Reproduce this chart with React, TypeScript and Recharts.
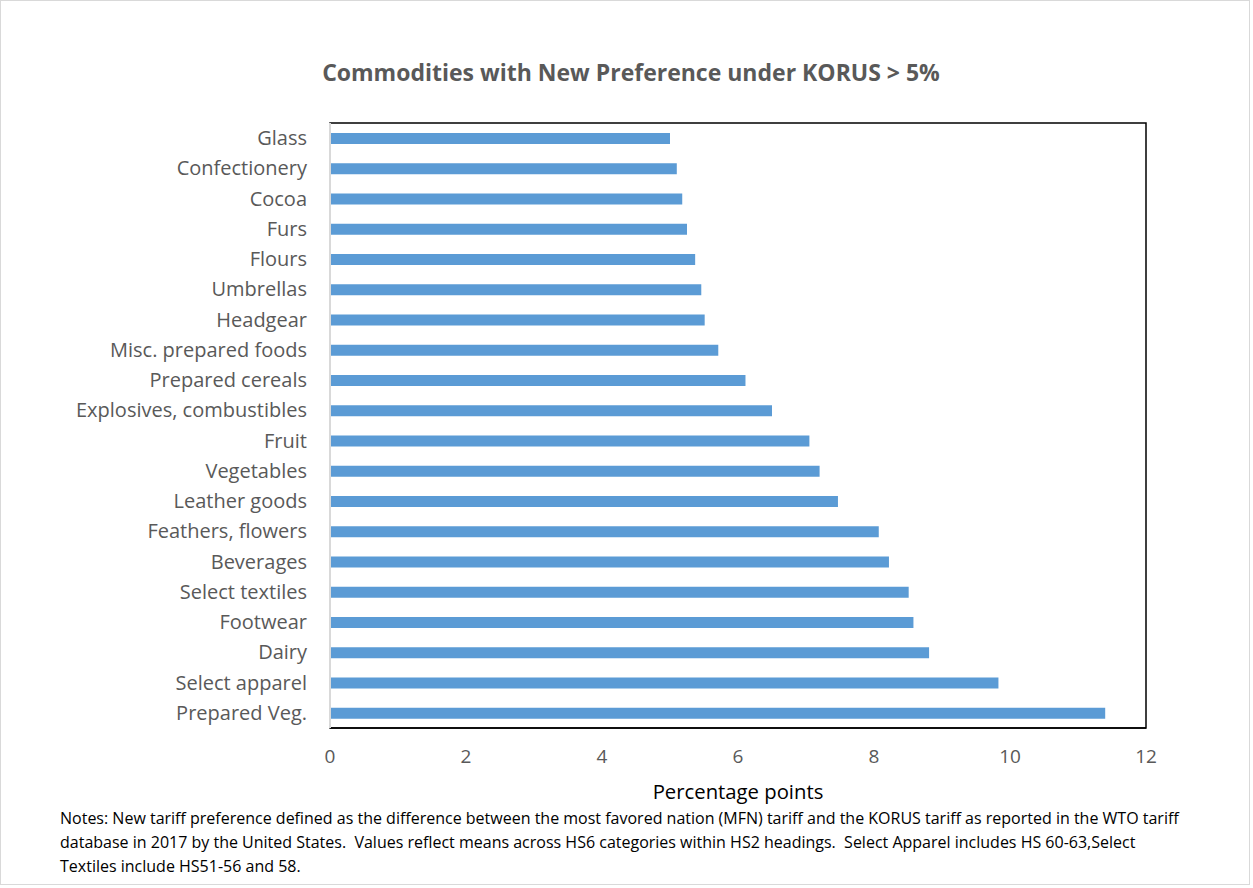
import React from 'react';
import { BarChart, Bar, XAxis, YAxis, ReferenceArea } from 'recharts';

const categories = [
  'Glass',
  'Confectionery',
  'Cocoa',
  'Furs',
  'Flours',
  'Umbrellas',
  'Headgear',
  'Misc. prepared foods',
  'Prepared cereals',
  'Explosives, combustibles',
  'Fruit',
  'Vegetables',
  'Leather goods',
  'Feathers, flowers',
  'Beverages',
  'Select textiles',
  'Footwear',
  'Dairy',
  'Select apparel',
  'Prepared Veg.',
];

const preferenceValues = [
  5.0, 5.1, 5.18, 5.25, 5.37, 5.46, 5.51, 5.71, 6.11, 6.5,
  7.05, 7.2, 7.47, 8.07, 8.22, 8.51, 8.58, 8.81, 9.83, 11.4,
];

const xTicks = [0, 2, 4, 6, 8, 10, 12];

const chartTitle = 'Commodities with New Preference under KORUS > 5%';
const xAxisTitle = 'Percentage points';
const noteLines = [
  'Notes: New tariff preference defined as the difference between the most favored nation (MFN) tariff and the KORUS tariff as reported in the WTO tariff',
  'database in 2017 by the United States.  Values reflect means across HS6 categories within HS2 headings.  Select Apparel includes HS 60-63,Select',
  'Textiles include HS51-56 and 58.',
];

const data = categories.map((name, i) => ({ name, value: preferenceValues[i] }));

const FONT = '"Open Sans", sans-serif';
const W = 1253;
const H = 888;

export default function App() {
  return (
    <div
      style={{
        position: 'absolute',
        left: 0,
        top: 0,
        width: W,
        height: H,
        background: '#fff',
        fontFamily: FONT,
      }}
    >
      <div
        style={{
          position: 'absolute',
          left: 0,
          top: 0,
          width: W - 3,
          height: H - 3,
          border: '1px solid #d9d9d9',
          boxSizing: 'border-box',
        }}
      />
      <div
        style={{
          position: 'absolute',
          left: 0,
          width: 1262,
          top: 56,
          textAlign: 'center',
          fontSize: 23,
          fontWeight: 700,
          color: '#595959',
        }}
      >
        {chartTitle}
      </div>
      <BarChart
        width={W}
        height={H}
        data={data}
        layout="vertical"
        margin={{ top: 123, right: 107, bottom: 130, left: 0 }}
        barSize={11}
      >
        <XAxis
          type="number"
          domain={[0, 12]}
          ticks={xTicks}
          height={30}
          axisLine={{ stroke: '#000', strokeWidth: 1.5 }}
          tickLine={false}
          tickSize={0}
          tickMargin={22}
          tick={{ fill: '#595959', fontSize: 19, fontFamily: FONT }}
          interval={0}
        />
        <YAxis
          type="category"
          dataKey="name"
          width={330}
          axisLine={{ stroke: '#d9d9d9', strokeWidth: 2 }}
          tickLine={false}
          tickSize={0}
          tickMargin={23}
          tick={{ fill: '#595959', fontSize: 20, fontFamily: FONT }}
          interval={0}
        />
        <ReferenceArea x1={0} x2={12} fill="none" stroke="#000" strokeWidth={1.5} />
        <Bar dataKey="value" fill="#5b9bd5" isAnimationActive={false} />
      </BarChart>
      <div
        style={{
          position: 'absolute',
          left: 0,
          width: 1476,
          top: 777,
          textAlign: 'center',
          fontSize: 20.3,
          color: '#000',
        }}
      >
        {xAxisTitle}
      </div>
      <div
        style={{
          position: 'absolute',
          left: 60,
          top: 806,
          fontSize: 16,
          lineHeight: '24px',
          color: '#000',
          whiteSpace: 'pre',
        }}
      >
        {noteLines.map((line) => (
          <div key={line}>{line}</div>
        ))}
      </div>
    </div>
  );
}
